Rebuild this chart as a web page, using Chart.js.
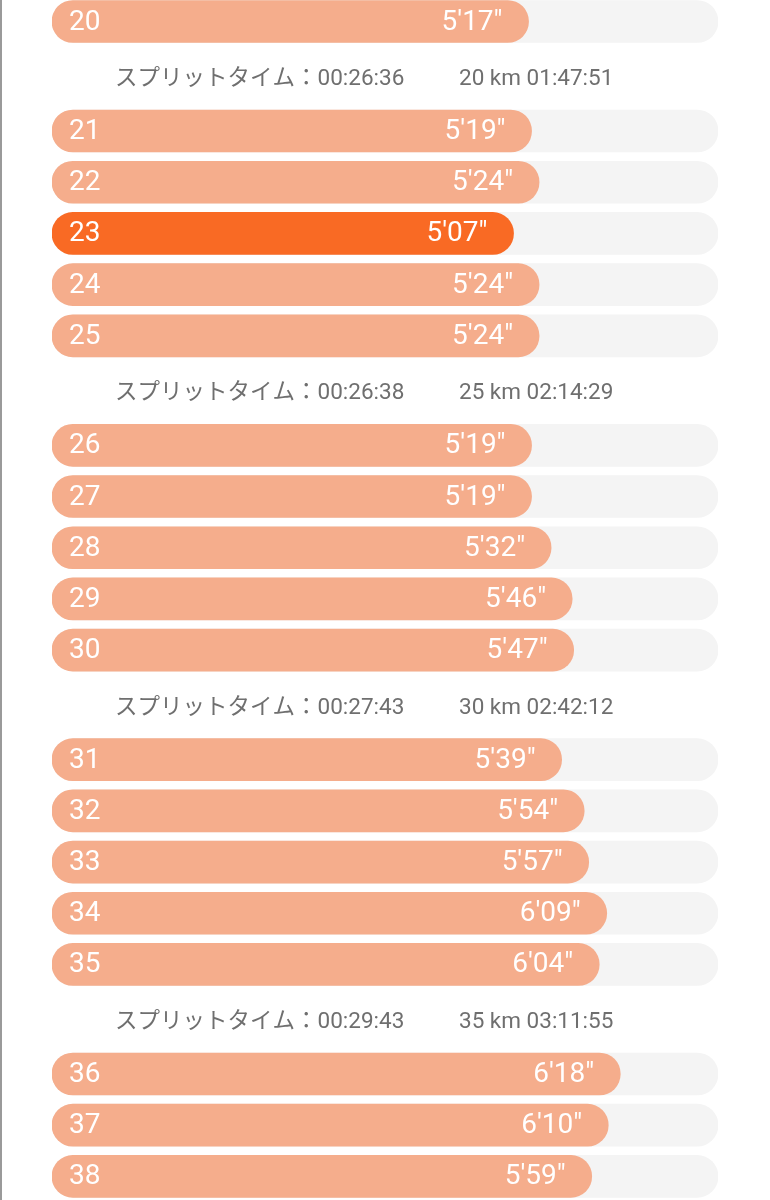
<!DOCTYPE html>
<html>
<head>
<meta charset="utf-8">
<script src="https://cdn.jsdelivr.net/npm/chart.js@4"></script>
<style>
  html, body { margin: 0; padding: 0; background: #fff; }
  #wrap { width: 770px; height: 1200px; }
</style>
</head>
<body>
<div id="wrap"><canvas id="splits" width="770" height="1200"></canvas></div>
<script>
const kms = [20, 21, 22, 23, 24, 25, 26, 27, 28, 29, 30, 31, 32, 33, 34, 35, 36, 37, 38];
const paces = ["5'17\"", "5'19\"", "5'24\"", "5'07\"", "5'24\"", "5'24\"", "5'19\"", "5'19\"", "5'32\"", "5'46\"",
               "5'47\"", "5'39\"", "5'54\"", "5'57\"", "6'09\"", "6'04\"", "6'18\"", "6'10\"", "5'59\""];
const fastestKm = 23;

// split rows shown after these km
const splitAfterKm = [20, 25, 30, 35];
const splitTimes = ["00:26:36", "00:26:38", "00:27:43", "00:29:43"];
const splitTotals = ["01:47:51", "02:14:29", "02:42:12", "03:11:55"];

const paceMax = 443; // seconds at the end of the grey track

const toSec = p => { const m = p.match(/(\d+)'(\d+)/); return +m[1] * 60 + +m[2]; };
const seconds = paces.map(toSec);

// row positions: one unit per km, extra room where a split line sits
const splitGap = 1.139;
const rowPos = [];
let pos = 0;
kms.forEach((km, i) => {
  rowPos.push(pos);
  pos += 1 + (splitAfterKm.includes(km) ? splitGap : 0);
});

const pitch = 51.2;
const yMin = -0.42;
const yMax = 1200 / pitch + yMin;

const salmon = "#f5ad8c";
const orange = "#f96a24";
const track = "#f4f4f4";

const labelPlugin = {
  id: "labels",
  afterDatasetsDraw(chart) {
    const ctx = chart.ctx;
    const xs = chart.scales.x, ys = chart.scales.y;
    ctx.save();
    // thin border on the left edge
    ctx.fillStyle = "#9a9a9a";
    ctx.fillRect(0, 0, 2, chart.height);

    ctx.fillStyle = "#ffffff";
    ctx.font = "28px Roboto";
    ctx.textBaseline = "middle";
    kms.forEach((km, i) => {
      const y = ys.getPixelForValue(rowPos[i]) + 1;
      ctx.textAlign = "left";
      ctx.fillText(String(km), chart.chartArea.left + 17, y);
      ctx.textAlign = "right";
      ctx.fillText(paces[i], xs.getPixelForValue(seconds[i]) - 26, y);
    });

    ctx.fillStyle = "#6f6f6f";
    ctx.font = "22.5px Roboto, 'Noto Sans CJK JP'";
    ctx.textAlign = "left";
    splitAfterKm.forEach((km, j) => {
      const i = kms.indexOf(km);
      if (i < 0 || i + 1 >= kms.length) return;
      const y = (ys.getPixelForValue(rowPos[i]) + ys.getPixelForValue(rowPos[i + 1])) / 2 + 3;
      ctx.fillText("スプリットタイム：" + splitTimes[j], 115, y);
      ctx.fillText(km + " km " + splitTotals[j], 459, y);
    });
    ctx.restore();
  }
};

new Chart(document.getElementById("splits"), {
  type: "bar",
  data: {
    datasets: [
      {
        label: "pace",
        data: seconds.map((s, i) => ({ x: s, y: rowPos[i] })),
        backgroundColor: kms.map(k => k === fastestKm ? orange : salmon),
        order: 0
      },
      {
        label: "track",
        data: seconds.map((s, i) => ({ x: paceMax, y: rowPos[i] })),
        backgroundColor: track,
        order: 1
      }
    ]
  },
  options: {
    indexAxis: "y",
    responsive: false,
    animation: false,
    devicePixelRatio: 1,
    layout: { padding: { left: 52, right: 52, top: 0, bottom: 0 } },
    datasets: {
      bar: { barThickness: 42, grouped: false, borderRadius: 21, borderSkipped: false }
    },
    plugins: { legend: { display: false }, tooltip: { enabled: false } },
    scales: {
      x: { type: "linear", min: 0, max: paceMax, display: false },
      y: { type: "linear", min: yMin, max: yMax, reverse: true, offset: false, display: false }
    }
  },
  plugins: [labelPlugin]
});
</script>
</body>
</html>
